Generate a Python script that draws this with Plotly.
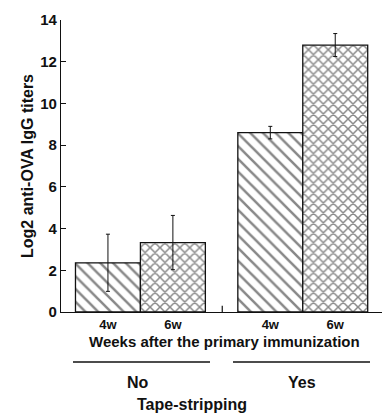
import plotly.graph_objects as go

categories = ["4w", "6w", "4w", "6w"]
positions = [1, 2, 3.5, 4.5]
values = [2.36, 3.33, 8.6, 12.8]
errors = [1.37, 1.3, 0.3, 0.55]
patterns = ["\\", "x", "\\", "x"]
yticks = [0, 2, 4, 6, 8, 10, 12, 14]

FONT = "Liberation Sans"

fig = go.Figure()
fig.add_trace(go.Bar(
    x=positions, y=values, width=1,
    marker=dict(color="white", line=dict(color="#111", width=1.3),
                pattern=dict(shape=patterns, fgcolor="#111", bgcolor="white",
                             size=[9, 7, 9, 7], solidity=[0.28, 0.38, 0.28, 0.38])),
    error_y=dict(type="data", array=errors, color="#111", thickness=1, width=2),
    showlegend=False,
))

fig.update_layout(
    width=382, height=414,
    margin=dict(l=61, r=0, t=20, b=102),
    plot_bgcolor="white", paper_bgcolor="white",
    font=dict(family=FONT, color="#111", size=13),
    xaxis=dict(range=[0.277, 5.22], tickvals=positions, ticktext=categories,
               showline=True, linecolor="#111", linewidth=1.3, ticks="",
               tickfont=dict(size=13, weight="bold"), showgrid=False, zeroline=False,
               fixedrange=True),
    yaxis=dict(range=[0, 14], tickvals=yticks, showline=True, linecolor="#111",
               linewidth=1.3, ticks="inside", ticklen=5, tickcolor="#111",
               tickfont=dict(size=15, weight="bold"), showgrid=False, zeroline=False,
               title=dict(text="Log2 anti-OVA IgG titers", font=dict(size=16, weight="bold"),
                          standoff=2)),
)

# separator tick between groups
fig.add_shape(type="line", xref="x", yref="y", x0=2.76, x1=2.76, y0=0, y1=0.3,
              line=dict(color="#111", width=1.2))

def px_x(p):
    return (p - 61) / 321

def px_y(p):
    return (312 - p) / 292

def label(text, x, y, size):
    fig.add_annotation(text=f"<b>{text}</b>", xref="paper", yref="paper",
                       x=px_x(x), y=px_y(y), xanchor="center", yanchor="middle",
                       showarrow=False, font=dict(size=size))

label("Weeks after the primary immunization", 225, 341, 15)
for x0, x1 in [(73, 210), (233, 370)]:
    fig.add_shape(type="line", xref="paper", yref="paper", x0=px_x(x0), x1=px_x(x1),
                  y0=px_y(362), y1=px_y(362), line=dict(color="#111", width=1.5))
label("No", 138, 382, 16)
label("Yes", 302, 382, 16)
label("Tape-stripping", 192, 404, 16)

fig.write_html("out.html")
